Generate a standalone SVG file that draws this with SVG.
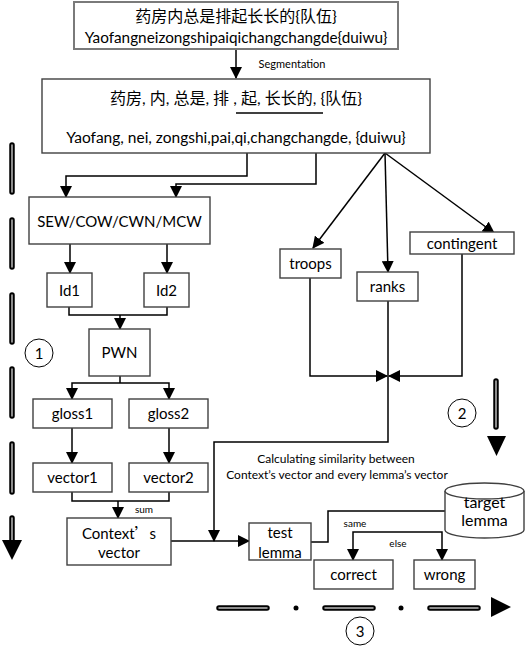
<svg xmlns="http://www.w3.org/2000/svg" width="526" height="650" viewBox="0 0 526 650">
<defs>
<marker id="ah" markerUnits="userSpaceOnUse" markerWidth="12" markerHeight="12" viewBox="0 0 12 12" refX="11" refY="6" orient="auto">
<path d="M0,0 L12,6 L0,12 Z" fill="#000"/>
</marker>
</defs>
<style>
.box{fill:#fff;stroke:#404040;stroke-width:1.4}
.t{font-family:Lato,"Noto Sans CJK SC",sans-serif;font-size:15px;fill:#000;text-anchor:middle}
.s{font-family:Lato,"Noto Sans",sans-serif;font-size:10px;fill:#000;text-anchor:middle}
.c{fill:none;stroke:#000;stroke-width:1.5}
.ca{fill:none;stroke:#000;stroke-width:1.5;marker-end:url(#ah)}
.dashO{stroke:#000;stroke-width:5.5;stroke-linecap:round;fill:none}
.dashI{stroke:#bbb;stroke-width:1.5;stroke-linecap:round;fill:none}
.circ{fill:#fff;stroke:#000;stroke-width:1}
</style>
<rect width="526" height="650" fill="#fff"/>

<g id="connectors">
<path class="ca" d="M236,49 V78"/>
<path class="ca" d="M247,143 V176 H66 V197"/>
<path class="ca" d="M316,143 V184 H176 V197"/>
<path class="ca" d="M385,153 L313,248"/>
<path class="ca" d="M385,153 L388,272"/>
<path class="ca" d="M385,153 L494,233"/>
<path class="ca" d="M70,244 V273"/>
<path class="ca" d="M167,244 V273"/>
<path class="c" d="M69,307 V315 H167 V307"/>
<path class="ca" d="M120,315 V329"/>
<path class="c" d="M120,376 V383"/>
<path class="ca" d="M120,383 H72 V399"/>
<path class="ca" d="M120,383 H169 V399"/>
<path class="ca" d="M72,428 V463"/>
<path class="ca" d="M169,428 V463"/>
<path class="c" d="M72,492 V501 H169 V492"/>
<path class="ca" d="M118,501 V518"/>
<path class="ca" d="M310,278 V376 H387"/>
<path class="ca" d="M462,254 V376 H389"/>
<path class="ca" d="M388,301 V442 H214 V541"/>
<path class="ca" d="M171,541 H249"/>
<path class="c" d="M311,542 H328 V511 H445"/>
<path class="ca" d="M398,532 H353 V560"/>
<path class="ca" d="M398,532 H442 V560"/>
</g>

<g id="top">
<rect class="box" x="74" y="2" width="324" height="47" style="stroke:#7a7a7a;stroke-width:2"/>
<text class="t" x="236" y="21.5" style="font-size:16px">药房内总是排起长长的{队伍}</text>
<text class="t" x="236" y="42.5" style="font-size:15.3px">Yaofangneizongshipaiqichangchangde{duiwu}</text>
</g>
<text class="s" x="292" y="67.5" style="font-size:11px">Segmentation</text>

<g id="segmented">
<rect class="box" x="42" y="79" width="388" height="74"/>
<text class="t" x="236" y="103.5" style="font-size:16px">药房, 内, 总是, 排 , 起, 长长的, {队伍}</text>
<line x1="236" y1="113" x2="323" y2="113" stroke="#000" stroke-width="1.3"/>
<text class="t" x="236" y="142.5" style="font-size:15.5px">Yaofang, nei, zongshi,pai,qi,changchangde, {duiwu}</text>
</g>

<g id="sew"><rect class="box" x="29" y="197" width="181" height="47"/><text class="t" x="119.5" y="226.5">SEW/COW/CWN/MCW</text></g>
<g id="id1"><rect class="box" x="47" y="273" width="45" height="34"/><text class="t" x="69.5" y="295.5">Id1</text></g>
<g id="id2"><rect class="box" x="144" y="273" width="45" height="34"/><text class="t" x="166.5" y="295.5">Id2</text></g>
<g id="pwn"><rect class="box" x="89" y="329" width="61" height="47"/><text class="t" x="119.5" y="357.5">PWN</text></g>
<g id="gloss1"><rect class="box" x="33" y="399" width="79" height="29"/><text class="t" x="72.5" y="419">gloss1</text></g>
<g id="gloss2"><rect class="box" x="129" y="399" width="79" height="29"/><text class="t" x="168.5" y="419">gloss2</text></g>
<g id="vector1"><rect class="box" x="33" y="463" width="79" height="29"/><text class="t" x="72.5" y="483">vector1</text></g>
<g id="vector2"><rect class="box" x="129" y="463" width="79" height="29"/><text class="t" x="168.5" y="483">vector2</text></g>
<text class="s" x="144" y="512.5">sum</text>
<g id="context"><rect class="box" x="67" y="518" width="104" height="47"/><text class="t" x="119" y="538.5">Context<tspan style="font-family:'Noto Sans CJK SC',sans-serif">’</tspan>s</text><text class="t" x="119" y="557.5">vector</text></g>

<g id="troops"><rect class="box" x="280" y="249" width="61" height="29"/><text class="t" x="310.5" y="269">troops</text></g>
<g id="ranks"><rect class="box" x="357" y="272" width="61" height="29"/><text class="t" x="387.5" y="292">ranks</text></g>
<g id="contingent"><rect class="box" x="410" y="232" width="104" height="22"/><text class="t" x="462" y="248.5">contingent</text></g>

<text class="s" x="336" y="463" style="font-size:12px">Calculating similarity between</text>
<text class="s" x="337" y="479" style="font-size:12px">Context’s vector and every lemma’s vector</text>

<g id="testlemma"><rect class="box" x="249" y="523" width="62" height="37"/><text class="t" x="280" y="537.5">test</text><text class="t" x="280" y="557.5">lemma</text></g>
<text class="s" x="355" y="526.5">same</text>
<text class="s" x="398" y="546.5">else</text>
<g id="correct"><rect class="box" x="314" y="560" width="79" height="29"/><text class="t" x="353.5" y="580">correct</text></g>
<g id="wrong"><rect class="box" x="414" y="560" width="61" height="29"/><text class="t" x="444.5" y="580">wrong</text></g>

<g id="target">
<path class="box" d="M445,491 V530 A39.5,8 0 0 0 524,530 V491"/>
<ellipse class="box" cx="484.5" cy="491" rx="39.5" ry="8"/>
<text class="t" x="484.5" y="508" style="font-size:16px">target</text>
<text class="t" x="484.5" y="526" style="font-size:16px">lemma</text>
</g>

<g id="step1">
<path class="dashO" d="M12,145 V192 M12,220 V267 M12,295 V342 M12,369 V416 M12,444 V492 M12,518 V540"/>
<path class="dashI" d="M12,145 V192 M12,220 V267 M12,295 V342 M12,369 V416 M12,444 V492 M12,518 V540"/>
<path d="M2,540 H22 L12,560 Z" fill="#000"/>
<circle class="circ" cx="39" cy="353" r="14"/>
<text class="t" x="39" y="358.5">1</text>
</g>
<g id="step2">
<path class="dashO" d="M496,381 V427"/>
<path class="dashI" d="M496,381 V427"/>
<path d="M487,436 H506 L496.5,456 Z" fill="#000"/>
<circle class="circ" cx="462" cy="413" r="14"/>
<text class="t" x="462" y="418.5">2</text>
</g>
<g id="step3">
<path class="dashO" d="M219,608 H267 M325,608 H373 M430,608 H478"/>
<path class="dashI" d="M219,608 H267 M325,608 H373 M430,608 H478"/>
<circle cx="296" cy="608" r="2.5" fill="#000"/>
<circle cx="401" cy="608" r="2.5" fill="#000"/>
<path d="M491,597 L511,607 L491,617 Z" fill="#000"/>
<circle class="circ" cx="360" cy="631" r="14"/>
<text class="t" x="360" y="636.5">3</text>
</g>
</svg>
